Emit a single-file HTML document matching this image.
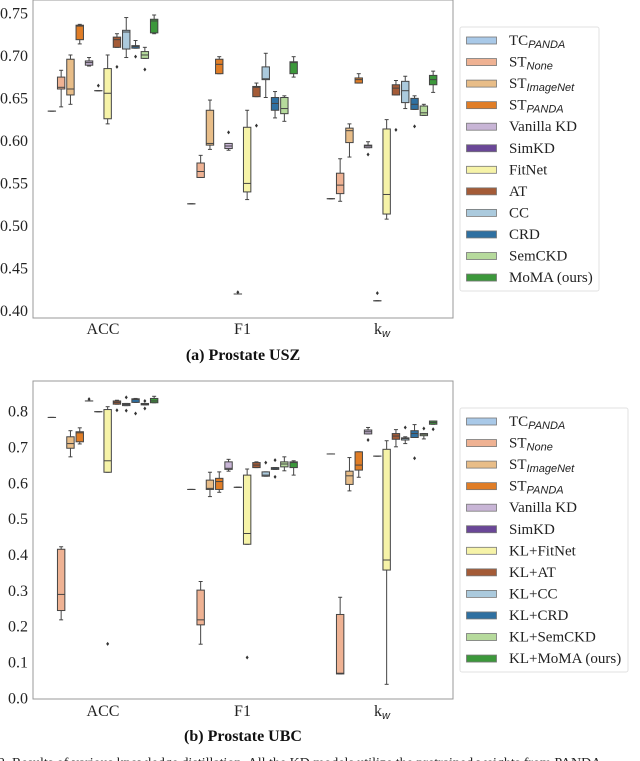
<!DOCTYPE html>
<html><head><meta charset="utf-8"><style>
html,body{margin:0;padding:0;background:#fff;width:640px;height:761px;overflow:hidden}
svg{display:block;font-family:"Liberation Serif",serif}
</style></head><body>
<svg id="fig" width="640" height="761" viewBox="0 0 640 761" xmlns="http://www.w3.org/2000/svg"></svg>
<script>
const metrics = ["ACC", "F1", "kw"];
const methodsUSZ = ["TC|PANDA","ST|None","ST|ImageNet","ST|PANDA","Vanilla KD","SimKD","FitNet","AT","CC","CRD","SemCKD","MoMA (ours)"];
const methodsUBC = ["TC|PANDA","ST|None","ST|ImageNet","ST|PANDA","Vanilla KD","SimKD","KL+FitNet","KL+AT","KL+CC","KL+CRD","KL+SemCKD","KL+MoMA (ours)"];
const colors = ["#a9c9e8","#efb293","#e8bd88","#e07d26","#c8b5d6","#6a4797","#f6f3a8","#a45b37","#abcadd","#2f70a1","#b6da9c","#3c983b"];
// [whisker-low, q1, median, q3, whisker-high]
const uszACC = [[.635,.635,.635,.635,.635],[.640,.661,.663,.675,.683],[.643,.654,.661,.696,.701],[.714,.719,.735,.736,.737],[.688,.689,.692,.694,.698],[.659,.659,.659,.659,.659],[.620,.626,.656,.685,.701],[.710,.710,.719,.722,.726],[.698,.708,.728,.730,.745],[.709,.709,.711,.712,.718],[.697,.697,.701,.705,.710],[.726,.727,.741,.743,.748]];
const uszF1 = [[.526,.526,.526,.526,.526],[.557,.557,.564,.574,.583],[.590,.595,.597,.636,.648],[.679,.679,.690,.696,.699],[.589,.591,.594,.597,.597],[.420,.420,.420,.420,.420],[.531,.540,.550,.616,.636],[.652,.652,.663,.664,.668],[.651,.672,.673,.687,.703],[.627,.636,.644,.651,.658],[.623,.632,.638,.651,.653],[.675,.679,.692,.693,.699]];
const uszKW = [[.532,.532,.532,.532,.532],[.529,.538,.548,.562,.579],[.581,.598,.612,.615,.620],[.668,.668,.672,.674,.679],[.592,.592,.594,.595,.599],[.412,.412,.412,.412,.412],[.508,.514,.537,.614,.625],[.654,.654,.662,.666,.671],[.638,.645,.659,.670,.676],[.637,.637,.643,.650,.653],[.630,.630,.633,.641,.643],[.657,.666,.672,.677,.682]];
const uszACCout = [[],[],[],[],[],[.665],[],[.687],[],[.699],[.684],[]];
const uszF1out = [[],[],[],[],[.610],[.422],[],[.618],[],[],[],[]];
const uszKWout = [[],[],[],[],[.584],[.421],[],[.613],[],[.617],[],[]];
const ubcACC = [[.784,.784,.784,.784,.784],[.219,.245,.290,.416,.423],[.674,.698,.711,.730,.747],[.710,.716,.741,.744,.755],[.830,.830,.830,.830,.830],[.800,.800,.800,.800,.800],[.631,.631,.663,.806,.814],[.821,.821,.826,.830,.832],[.817,.817,.820,.823,.823],[.826,.826,.834,.836,.837],[.819,.819,.821,.823,.823],[.825,.825,.830,.837,.843]];
const ubcF1 = [[.583,.583,.583,.583,.583],[.151,.205,.219,.302,.326],[.563,.583,.586,.609,.631],[.575,.583,.605,.614,.632],[.634,.639,.642,.660,.667],[.589,.589,.589,.589,.589],[.430,.430,.460,.623,.640],[.644,.644,.651,.658,.660],[.620,.620,.623,.632,.632],[.639,.639,.642,.644,.644],[.635,.646,.654,.660,.674],[.623,.644,.658,.660,.663]];
const ubcKW = [[.682,.682,.682,.682,.682],[.068,.068,.070,.234,.282],[.579,.597,.621,.634,.672],[.617,.637,.651,.688,.688],[.738,.738,.744,.749,.756],[.676,.676,.676,.676,.676],[.039,.358,.386,.695,.719],[.702,.723,.732,.739,.750],[.711,.721,.725,.727,.730],[.728,.728,.739,.747,.764],[.724,.733,.737,.739,.739],[.765,.765,.770,.774,.774]];
const ubcACCout = [[],[],[],[],[.835],[],[.152],[.804],[.840,.803],[.795],[.830,.809],[]];
const ubcF1out = [[],[],[],[],[],[],[.114],[],[.658],[.665,.618],[],[]];
const ubcKWout = [[],[],[],[],[.721],[],[],[],[.756],[.670],[.753],[.751]];
const uszTicks = [0.40,0.45,0.50,0.55,0.60,0.65,0.70,0.75];
const ubcTicks = [0.0,0.1,0.2,0.3,0.4,0.5,0.6,0.7,0.8];

const NS = "http://www.w3.org/2000/svg";
const svg = document.getElementById("fig");
function el(tag, attrs, parent, text){
  const e = document.createElementNS(NS, tag);
  for (const k in attrs) e.setAttribute(k, attrs[k]);
  if (text !== undefined) e.textContent = text;
  (parent||svg).appendChild(e); return e;
}
function labelSpan(parent, label){
  const parts = label.split("|");
  const s1 = document.createElementNS(NS,"tspan"); s1.textContent = parts[0]; parent.appendChild(s1);
  if (parts[1]){
    const s2 = document.createElementNS(NS,"tspan");
    s2.setAttribute("font-family","'Liberation Sans',sans-serif");
    s2.setAttribute("font-style","italic"); s2.setAttribute("font-size","11");
    s2.setAttribute("dy","3"); s2.textContent = parts[1]; parent.appendChild(s2);
  }
}
function panel(cfg){
  const g = el("g",{});
  
  
  const L=33,R=453,T=cfg.top,B=cfg.bottom;
  const y = v => cfg.y0 + (v - cfg.v0) * (cfg.y1 - cfg.y0) / (cfg.v1 - cfg.v0);
  const gx = i => 103 + i * 139.5;
  const bx = (gi, m) => gx(gi) + (m - 5.5) * 9.3;
  const frame = el("rect",{x:L,y:T,width:R-L,height:B-T,fill:"none",stroke:"#999","stroke-width":1},g);
  
  
  cfg.ticks.forEach(t=>{
    const tx = el("text",{x:28,y:y(t)+5,"text-anchor":"end","font-size":"16",fill:"#222"},g, t.toFixed(cfg.dec));
    
    
  });
  metrics.forEach((mname,gi)=>{
    const tx = el("text",{x:gx(gi),y:cfg.labelY,"text-anchor":"middle","font-size":"16",fill:"#222"},g);
    if (mname==="kw"){ const a=document.createElementNS(NS,"tspan"); a.textContent="k"; tx.appendChild(a);
      const b=document.createElementNS(NS,"tspan"); b.setAttribute("font-family","'Liberation Sans',sans-serif"); b.setAttribute("font-style","italic"); b.setAttribute("font-size","11"); b.setAttribute("dy","3"); b.textContent="w"; tx.appendChild(b);
    } else tx.textContent = mname;
    
    
    const data = cfg.data[gi], outs = cfg.outs[gi];
    data.forEach((d,m)=>{
      const cx = bx(gi,m), w = 7.4;
      const bg = el("g",{},g);
      
      
      el("line",{x1:cx,x2:cx,y1:y(d[0]),y2:y(d[1]),stroke:"#444","stroke-width":1},bg);
      el("line",{x1:cx,x2:cx,y1:y(d[3]),y2:y(d[4]),stroke:"#444","stroke-width":1},bg);
      el("line",{x1:cx-2,x2:cx+2,y1:y(d[0]),y2:y(d[0]),stroke:"#444","stroke-width":1},bg);
      el("line",{x1:cx-2,x2:cx+2,y1:y(d[4]),y2:y(d[4]),stroke:"#444","stroke-width":1},bg);
      const h = Math.max(y(d[1])-y(d[3]), 0.01);
      el("rect",{x:cx-w/2,y:y(d[3]),width:w,height:h,fill:colors[m],stroke:"#444","stroke-width":1},bg);
      el("line",{x1:cx-w/2,x2:cx+w/2,y1:y(d[2]),y2:y(d[2]),stroke:"#444","stroke-width":1},bg);
      outs[m].forEach(o=>{
        const oy=y(o);
        const p = el("path",{d:`M${cx} ${oy-2}L${cx+1.5} ${oy}L${cx} ${oy+2}L${cx-1.5} ${oy}Z`,fill:"#333"},bg);
        
        
      });
    });
  });
  const cap = el("text",{x:243,y:cfg.capY,"text-anchor":"middle","font-size":"16","font-weight":"bold",fill:"#111"},g,cfg.caption);
  
  
  // legend
  const lg = el("g",{},g);
  
  
  el("rect",{x:460,y:cfg.legTop,width:cfg.legW,height:264,rx:2,fill:"#fff",stroke:"#e2e2e2","stroke-width":1},lg);
  cfg.methods.forEach((name,m)=>{
    const ey = cfg.legTop + 13 + m*21.55;
    const e = el("g",{},lg);
    
    
    el("rect",{x:466.5,y:ey-3,width:30,height:7,fill:colors[m],stroke:"#777","stroke-width":0.8},e);
    const t = el("text",{x:509,y:ey+5,"font-size":"15",fill:"#222"},e);
    labelSpan(t,name);
  });
}
panel({name:"usz-chart",top:0,bottom:318,y0:13.3,v0:0.75,y1:311,v1:0.40,ticks:uszTicks,dec:2,labelY:334,capY:360,caption:"(a) Prostate USZ",
  data:[uszACC,uszF1,uszKW],outs:[uszACCout,uszF1out,uszKWout],methods:methodsUSZ,legTop:27,legW:139});
panel({name:"ubc-chart",top:381,bottom:699,y0:411.7,v0:0.8,y1:698.3,v1:0.0,ticks:ubcTicks,dec:1,labelY:716,capY:741,caption:"(b) Prostate UBC",
  data:[ubcACC,ubcF1,ubcKW],outs:[ubcACCout,ubcF1out,ubcKWout],methods:methodsUBC,legTop:408,legW:168});
const foot = el("text",{x:-2,y:767,"font-size":"14",fill:"#222"},svg,"2.  Results of various knowledge distillation. All the KD models utilize the pretrained weights from PANDA");


</script>
</body></html>
